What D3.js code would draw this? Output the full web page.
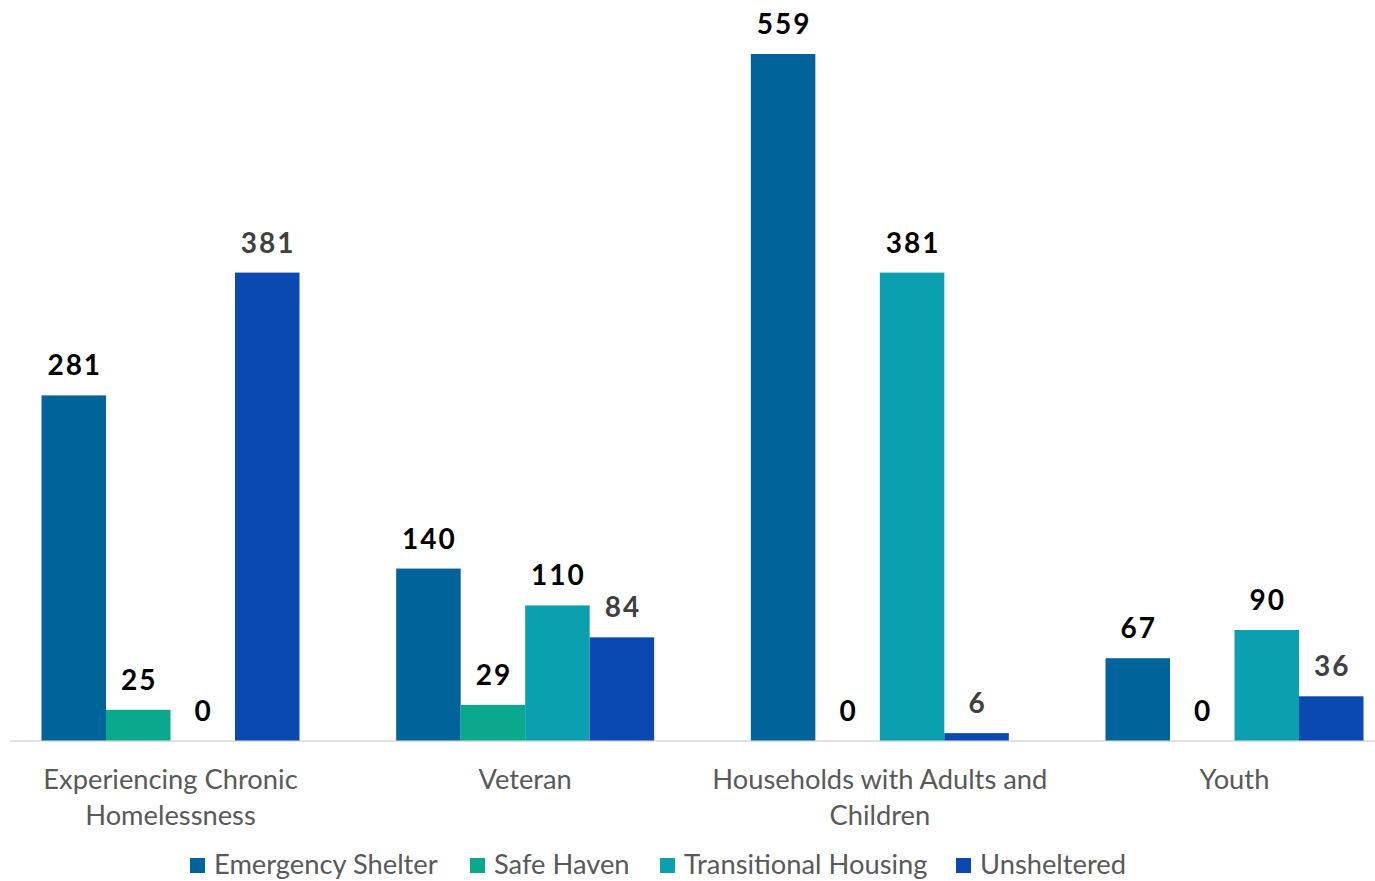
<!DOCTYPE html>
<html><head><meta charset="utf-8">
<script src="https://cdn.jsdelivr.net/npm/d3@7"></script>
<style>body{margin:0;background:#fff;} svg{display:block;}</style>
</head><body>
<svg id="c" width="1375" height="881"></svg>
<script>
const categories = ["Experiencing Chronic Homelessness", "Veteran", "Households with Adults and Children", "Youth"];
const categoryLines = [["Experiencing Chronic", "Homelessness"], ["Veteran"], ["Households with Adults and", "Children"], ["Youth"]];
const seriesNames = ["Emergency Shelter", "Safe Haven", "Transitional Housing", "Unsheltered"];
const emergencyShelter = [281, 140, 559, 67];
const safeHaven = [25, 29, 0, 0];
const transitionalHousing = [0, 110, 381, 90];
const unsheltered = [381, 84, 6, 36];
const seriesColors = ["#00639A", "#0AA98D", "#0AA0B0", "#0A49B0"];
const labelColors = ["#000000", "#000000", "#000000", "#404040"];

const seriesValues = [emergencyShelter, safeHaven, transitionalHousing, unsheltered];
const FONT = "Lato, 'Open Sans', sans-serif";

const svg = d3.select("#c");
const baseY = 740.5;
const y = d3.scaleLinear().domain([0, 559]).range([baseY, 54]);
const x0 = d3.scaleBand().domain(categories).range([-6.83, 1411.83]).paddingInner(0.2726).paddingOuter(0.1363);
const x1 = d3.scaleBand().domain(seriesNames).range([0, x0.bandwidth()]);

// axis line
svg.append("line").attr("x1", 10).attr("x2", 1375).attr("y1", baseY + 0.5).attr("y2", baseY + 0.5)
  .attr("stroke", "#d9d9d9").attr("stroke-width", 1.5);

const groups = svg.selectAll("g.grp").data(categories).enter().append("g")
  .attr("transform", c => `translate(${x0(c)},0)`);

groups.each(function(c, ci) {
  const g = d3.select(this);
  seriesNames.forEach((s, si) => {
    const v = seriesValues[si][ci];
    g.append("rect").attr("x", x1(s)).attr("width", x1.bandwidth())
      .attr("y", y(v)).attr("height", baseY - y(v)).attr("fill", seriesColors[si]);
    g.append("text").attr("x", x1(s) + x1.bandwidth() / 2).attr("y", y(v) - 20).attr("dx", 1)
      .attr("text-anchor", "middle").attr("font-family", FONT).attr("font-weight", "bold")
      .attr("font-size", 28).attr("letter-spacing", 2).attr("fill", labelColors[si]).text(v);
  });
  const lines = categoryLines[ci];
  const t = g.append("text").attr("x", x0.bandwidth() / 2).attr("y", 789)
    .attr("text-anchor", "middle").attr("font-family", FONT).attr("font-size", 27.3).attr("fill", "#595959");
  lines.forEach((l, li) => t.append("tspan").attr("x", x0.bandwidth() / 2).attr("dy", li === 0 ? 0 : 36).text(l));
});

// legend
const legendX = [190, 470, 660, 956];
const lg = svg.append("g");
seriesNames.forEach((s, i) => {
  lg.append("rect").attr("x", legendX[i]).attr("y", 858).attr("width", 15).attr("height", 15).attr("fill", seriesColors[i]);
  lg.append("text").attr("x", legendX[i] + 24).attr("y", 874).attr("font-family", FONT).attr("font-size", 27.3)
    .attr("fill", "#595959").text(s);
});
</script>
</body></html>
